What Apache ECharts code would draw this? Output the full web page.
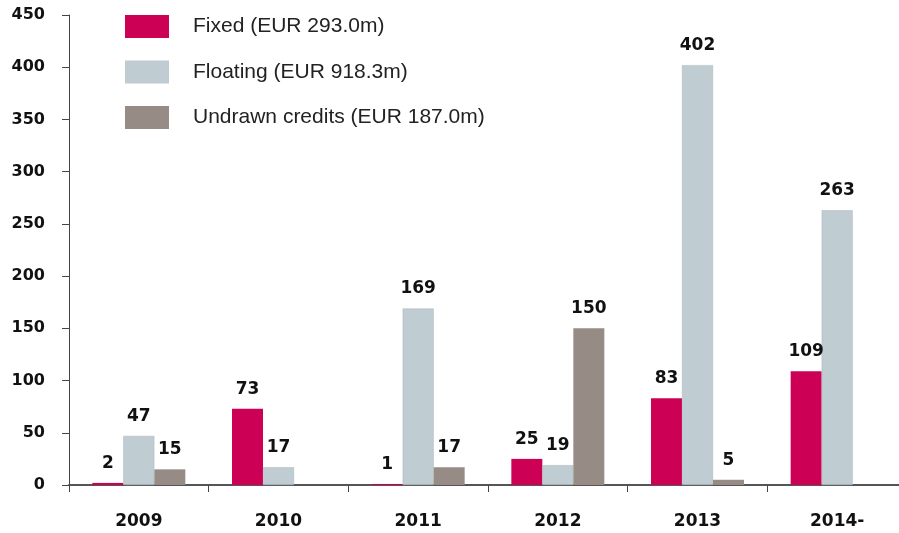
<!DOCTYPE html>
<html>
<head>
<meta charset="utf-8">
<script src="https://cdn.jsdelivr.net/npm/echarts@6/dist/echarts.min.js"></script>
<style>
html, body { margin: 0; padding: 0; background: #fff; }
#chart { width: 899px; height: 533px; }
</style>
</head>
<body>
<div id="chart"></div>
<script>
// data
var years = ['2009', '2010', '2011', '2012', '2013', '2014-'];
var fixed = [2, 73, 1, 25, 83, 109];
var floating = [47, 17, 169, 19, 402, 263];
var undrawn = [15, null, 17, 150, 5, null];
var seriesNames = ['Fixed (EUR 293.0m)', 'Floating (EUR 918.3m)', 'Undrawn credits (EUR 187.0m)'];
var colors = ['#cc0055', '#bfcdd2', '#968b85'];

var labelStyle = {
	show: true,
	position: 'top',
	distance: 11,
	color: '#111',
	fontFamily: 'DejaVu Sans',
	fontWeight: 'bold',
	fontSize: 17
};

var chart = echarts.init(document.getElementById('chart'));
chart.setOption({
	animation: false,
	color: colors,
	grid: { left: 69, top: 15, width: 838, height: 470, outerBoundsMode: 'none' },
	legend: {
		orient: 'vertical',
		left: 125,
		top: 15,
		padding: 0,
		itemWidth: 44,
		itemHeight: 23,
		itemGap: 22.5,
		icon: 'rect',
		itemStyle: { borderWidth: 0 },
		textStyle: { fontFamily: 'Liberation Sans', fontSize: 21, lineHeight: 23, color: '#222', padding: [0, 0, 0, 19] },
		data: seriesNames
	},
	xAxis: {
		type: 'category',
		data: years,
		axisLine: { lineStyle: { color: '#555', width: 2 } },
		axisTick: { show: true, length: 7, lineStyle: { color: '#444' } },
		axisLabel: { margin: 28, color: '#111', fontFamily: 'DejaVu Sans', fontWeight: 'bold', fontSize: 17 }
	},
	yAxis: {
		type: 'value',
		min: 0,
		max: 450,
		interval: 50,
		splitLine: { show: false },
		axisLine: { show: true, lineStyle: { color: '#444', width: 1 } },
		axisTick: { show: true, length: 7, lineStyle: { color: '#444' } },
		axisLabel: { margin: 24, color: '#111', fontFamily: 'DejaVu Sans', fontWeight: 'bold', fontSize: 16 }
	},
	series: [{
		name: seriesNames[0],
		type: 'bar',
		data: fixed,
		barWidth: 31,
		barGap: '0%',
		label: labelStyle
	}, {
		name: seriesNames[1],
		type: 'bar',
		data: floating,
		barWidth: 31,
		barGap: '0%',
		itemStyle: { borderColor: '#aab4b8', borderWidth: 0.5 },
		label: labelStyle
	}, {
		name: seriesNames[2],
		type: 'bar',
		data: undrawn,
		barWidth: 31,
		barGap: '0%',
		label: labelStyle
	}]
});
</script>
</body>
</html>
